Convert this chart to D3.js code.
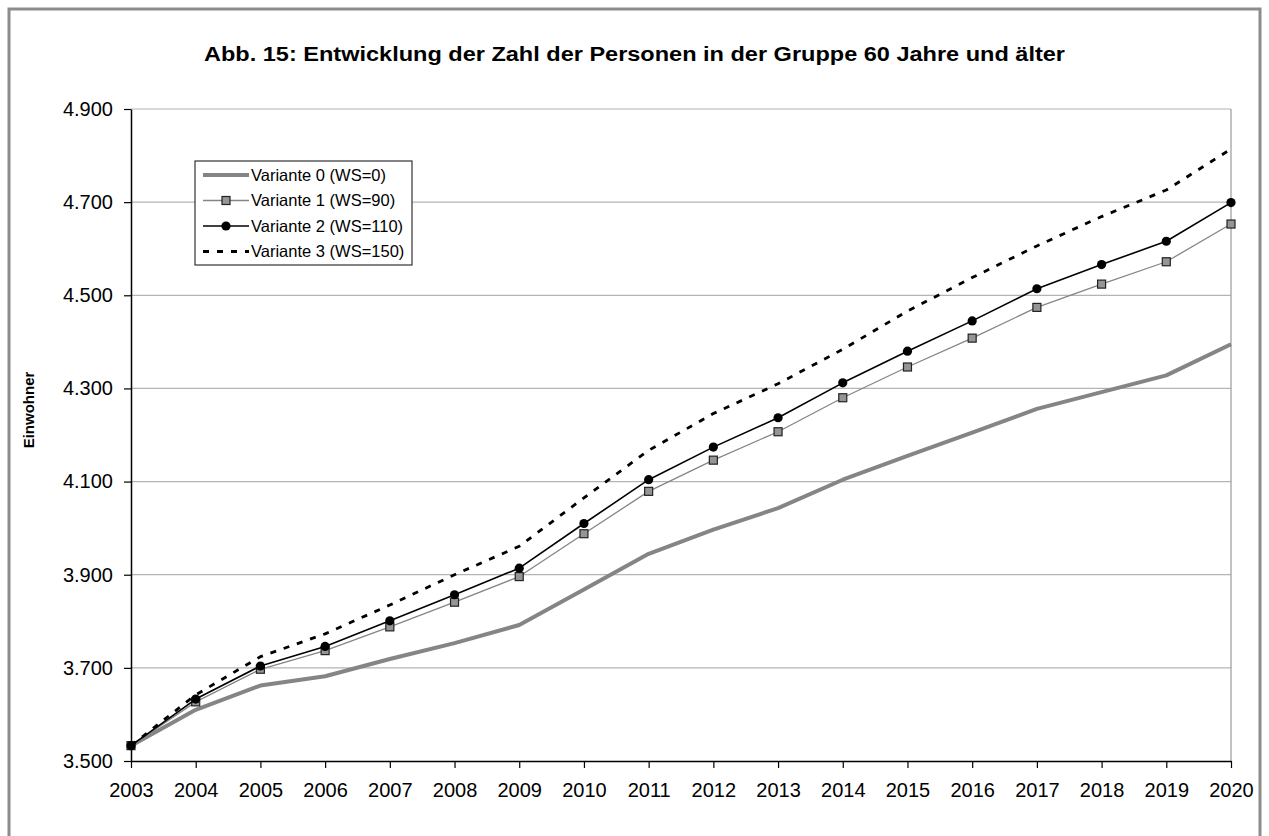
<!DOCTYPE html>
<html>
<head>
<meta charset="utf-8">
<script src="https://cdn.jsdelivr.net/npm/d3@7"></script>
<style>
  body { margin: 0; background: #fff; }
  svg { display: block; font-family: "Liberation Sans", Arial, sans-serif; }
</style>
</head>
<body>
<div id="chart"></div>
<script>
// Jahre und Werte
var years = [2003, 2004, 2005, 2006, 2007, 2008, 2009, 2010, 2011, 2012, 2013, 2014, 2015, 2016, 2017, 2018, 2019, 2020];
var variante0 = [3533, 3610, 3662, 3682, 3719, 3753, 3792, 3868, 3945, 3997, 4043, 4104, 4155, 4205, 4256, 4292, 4328, 4395];
var variante1 = [3533, 3627, 3697, 3737, 3788, 3841, 3896, 3988, 4079, 4146, 4207, 4280, 4346, 4408, 4474, 4524, 4572, 4653];
var variante2 = [3533, 3633, 3704, 3746, 3801, 3857, 3914, 4010, 4104, 4174, 4237, 4312, 4380, 4445, 4514, 4566, 4616, 4699];
var variante3 = [3533, 3642, 3724, 3773, 3835, 3900, 3961, 4065, 4167, 4246, 4310, 4384, 4466, 4538, 4606, 4669, 4726, 4814];
var seriesNames = ["Variante 0 (WS=0)", "Variante 1 (WS=90)", "Variante 2 (WS=110)", "Variante 3 (WS=150)"];
var yTicks = [3500, 3700, 3900, 4100, 4300, 4500, 4700, 4900];

var W = 1269, H = 836;
var margin = { top: 109, right: 38, bottom: 75, left: 131 },
    width = W - margin.left - margin.right,
    height = H - margin.top - margin.bottom;

var de = d3.formatLocale({ decimal: ",", thousands: ".", grouping: [3], currency: ["", " €"] });
var fmt = de.format(",d");

var svg = d3.select("#chart").append("svg")
    .attr("width", W)
    .attr("height", H);

// outer frame
svg.append("rect")
    .attr("x", 9).attr("y", 9)
    .attr("width", 1251).attr("height", 840)
    .attr("fill", "#fff")
    .attr("stroke", "#8c8c8c")
    .attr("stroke-width", 3);

// title
svg.append("text")
    .attr("x", 634.5)
    .attr("y", 61)
    .attr("text-anchor", "middle")
    .attr("textLength", 861)
    .attr("lengthAdjust", "spacingAndGlyphs")
    .style("font-size", "20px")
    .style("font-weight", "bold")
    .text("Abb. 15: Entwicklung der Zahl der Personen in der Gruppe 60 Jahre und älter");

var g = svg.append("g")
    .attr("transform", "translate(" + margin.left + "," + margin.top + ")");

var x = d3.scaleLinear()
    .domain([years[0], years[years.length - 1]])
    .range([0, width]);

var y = d3.scaleLinear()
    .domain([yTicks[0], yTicks[yTicks.length - 1]])
    .range([height, 0]);

// gridlines
g.append("g")
    .selectAll("line")
    .data(yTicks.slice(1))
    .enter().append("line")
    .attr("x1", 0).attr("x2", width)
    .attr("y1", function(d) { return y(d); })
    .attr("y2", function(d) { return y(d); })
    .attr("stroke", "#b4b4b4")
    .attr("stroke-width", 1.2);

// right edge of plot area
g.append("line")
    .attr("x1", width).attr("x2", width)
    .attr("y1", 0).attr("y2", height)
    .attr("stroke", "#999")
    .attr("stroke-width", 1.2);

// axes
var xAxis = d3.axisBottom(x)
    .tickValues(years)
    .tickFormat(d3.format("d"))
    .tickSize(7)
    .tickSizeOuter(0)
    .tickPadding(15);

var yAxis = d3.axisLeft(y)
    .tickValues(yTicks)
    .tickFormat(fmt)
    .tickSize(7)
    .tickSizeOuter(0)
    .tickPadding(11);

g.append("g")
    .attr("class", "axis x-axis")
    .attr("transform", "translate(0," + height + ")")
    .call(xAxis)
    .call(function(s) {
        s.select(".domain").attr("stroke", "#000").attr("stroke-width", 1.5);
        s.selectAll(".tick line").attr("stroke", "#000").attr("stroke-width", 1.2);
        s.selectAll("text").style("font-size", "20px").attr("fill", "#000")
            .style("font-family", "'Liberation Sans', Arial, sans-serif");
    });

g.append("g")
    .attr("class", "axis y-axis")
    .call(yAxis)
    .call(function(s) {
        s.select(".domain").attr("stroke", "#000").attr("stroke-width", 1.5);
        s.selectAll(".tick line").attr("stroke", "#000").attr("stroke-width", 1.2);
        s.selectAll("text").style("font-size", "20px").attr("fill", "#000")
            .style("font-family", "'Liberation Sans', Arial, sans-serif");
    });

// y axis title
svg.append("text")
    .attr("transform", "translate(34,410) rotate(-90)")
    .attr("text-anchor", "middle")
    .style("font-size", "15px")
    .style("font-weight", "bold")
    .text("Einwohner");

// lines
var series = [variante0, variante1, variante2, variante3];
var styles = [
    { stroke: "#858585", width: 4, dash: null },
    { stroke: "#858585", width: 1.3, dash: null },
    { stroke: "#000", width: 1.6, dash: null },
    { stroke: "#000", width: 2.8, dash: "6,8" }
];

var line = d3.line()
    .x(function(d, i) { return x(years[i]); })
    .y(function(d) { return y(d); });

series.forEach(function(vals, k) {
    g.append("path")
        .datum(vals)
        .attr("fill", "none")
        .attr("stroke", styles[k].stroke)
        .attr("stroke-width", styles[k].width)
        .attr("stroke-dasharray", styles[k].dash)
        .attr("stroke-linejoin", "round")
        .attr("d", line);

    if (k === 1) {
        g.selectAll(".sq")
            .data(vals)
            .enter().append("rect")
            .attr("class", "sq")
            .attr("x", function(d, i) { return x(years[i]) - 4; })
            .attr("y", function(d) { return y(d) - 4; })
            .attr("width", 8)
            .attr("height", 8)
            .attr("fill", "#959595")
            .attr("stroke", "#222")
            .attr("stroke-width", 1.2);
    }
    if (k === 2) {
        g.selectAll(".dot")
            .data(vals)
            .enter().append("circle")
            .attr("class", "dot")
            .attr("cx", function(d, i) { return x(years[i]); })
            .attr("cy", function(d) { return y(d); })
            .attr("r", 4.6)
            .attr("fill", "#000");
    }
});

// legend
var legend = svg.append("g")
    .attr("class", "legend")
    .attr("transform", "translate(195,161)");

legend.append("rect")
    .attr("width", 217)
    .attr("height", 104)
    .attr("fill", "#fff")
    .attr("stroke", "#333")
    .attr("stroke-width", 1.2);

var item = legend.selectAll(".legend-item")
    .data(seriesNames)
    .enter().append("g")
    .attr("class", "legend-item")
    .attr("transform", function(d, i) { return "translate(0," + (14 + i * 25.5) + ")"; });

item.append("line")
    .attr("x1", 8).attr("x2", 54)
    .attr("y1", 0).attr("y2", 0)
    .attr("stroke", function(d, i) { return styles[i].stroke; })
    .attr("stroke-width", function(d, i) { return styles[i].width; })
    .attr("stroke-dasharray", function(d, i) { return styles[i].dash; });

item.filter(function(d, i) { return i === 1; })
    .append("rect")
    .attr("x", 27).attr("y", -4)
    .attr("width", 8).attr("height", 8)
    .attr("fill", "#959595")
    .attr("stroke", "#222")
    .attr("stroke-width", 1.2);

item.filter(function(d, i) { return i === 2; })
    .append("circle")
    .attr("cx", 31).attr("cy", 0)
    .attr("r", 4.6)
    .attr("fill", "#000");

item.append("text")
    .attr("x", 56)
    .attr("y", 0)
    .attr("dy", "0.36em")
    .style("font-size", "16.5px")
    .text(function(d) { return d; });
</script>
</body>
</html>
